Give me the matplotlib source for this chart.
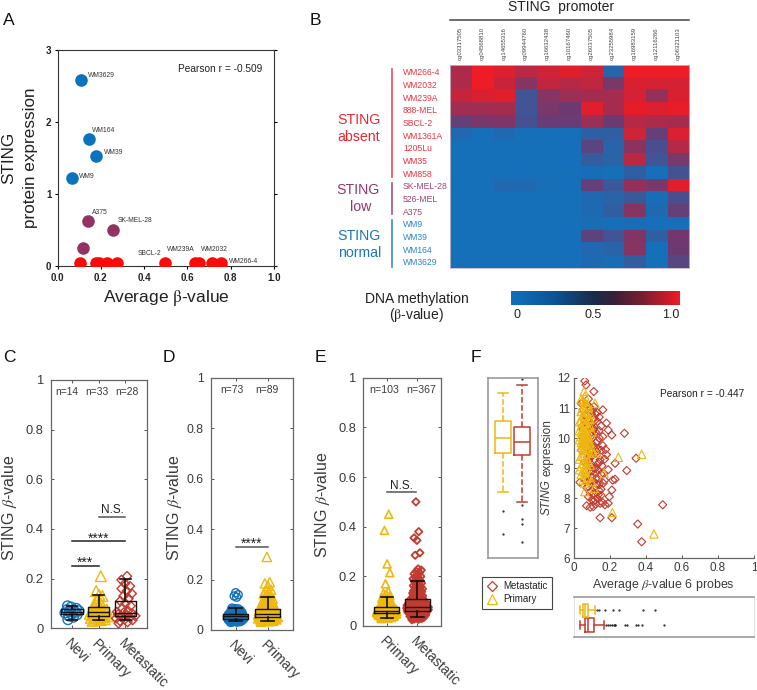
import numpy as np
import matplotlib
matplotlib.use("Agg")
import matplotlib.pyplot as plt
from matplotlib.colors import LinearSegmentedColormap as LSC
from matplotlib.lines import Line2D

plt.rcParams['font.family'] = ['Liberation Sans', 'DejaVu Sans']
plt.rcParams['mathtext.fontset'] = 'stix'

W, H = 757, 690
BLUE, YEL, RED, PUR = '#1272bb', '#eeb80f', '#c23b2e', '#943263'
TXT = '#3a3a3a'

# ---------- Panel A ----------
a_blue_x = [0.11, 0.147, 0.178, 0.068]
a_blue_y = [2.59, 1.77, 1.53, 1.22]
a_purple_x = [0.14, 0.258, 0.12]
a_purple_y = [0.63, 0.50, 0.25]
a_red_x = [0.103, 0.18, 0.19, 0.228, 0.275, 0.497, 0.635, 0.655, 0.715, 0.757]
a_red_y = [0.05] * 10

# ---------- Panel B ----------
probes = ['cg03317505', 'cg04568810', 'cg14655316', 'cg09944760', 'cg16632438', 'cg10167460',
          'cg26037505', 'cg23255984', 'cg16983159', 'cg12116266', 'cg06321103']
absent_lines = ['WM266-4', 'WM2032', 'WM239A', '888-MEL', 'SBCL-2', 'WM1361A', '1205Lu', 'WM35', 'WM858']
low_lines = ['SK-MEL-28', '526-MEL', 'A375']
normal_lines = ['WM9', 'WM39', 'WM164', 'WM3629']
m_wm266 = [.75, 1, .93, .80, .88, .95, .88, .10, 1, 1, 1]
m_wm2032 = [.75, 1, .85, .60, .83, .78, .82, .55, .92, .90, .90]
m_wm239 = [.85, .92, .95, .25, .60, .68, .72, .72, .90, .65, .92]
m_888 = [.70, .70, .72, .25, .55, .50, .95, .72, .97, .93, .98]
m_sbcl = [.45, .55, .58, .28, .48, .48, .68, .50, .78, .75, .72]
m_wm1361 = [.07, 0, .07, 0, 0, 0, .15, .15, .88, .45, .93]
m_1205 = [0, 0, 0, 0, 0, 0, .40, .12, .62, .30, .78]
m_wm35 = [0, 0, 0, 0, 0, 0, .18, .12, .80, .25, .55]
m_wm858 = [0, 0, 0, 0, 0, 0, .02, .01, .15, 0, .27]
m_skmel = [0, 0, .07, .05, .01, 0, .45, .22, .65, .55, .95]
m_526 = [0, 0, 0, 0, 0, 0, .07, .12, .22, .02, .30]
m_a375 = [0, 0, 0, 0, 0, 0, .05, .17, .60, .05, .45]
m_wm9 = [0, 0, 0, 0, 0, 0, .03, .01, .02, 0, .01]
m_wm39 = [0, 0, 0, 0, 0, 0, .42, .25, .58, .15, .52]
m_wm164 = [0, 0, 0, 0, 0, 0, .07, .12, .60, 0, .50]
m_wm3629 = [0, 0, 0, 0, 0, 0, .05, .03, .17, 0, .38]

# ---------- Panel C ----------
c_nevi = [.035, .045, .05, .055, .058, .062, .065, .067, .07, .072, .075, .08, .085, .09]
c_prim = [.03, .033, .035, .037, .04, .042, .044, .046, .048, .05, .052, .054, .056, .058, .06, .062, .064,
          .066, .068, .07, .072, .075, .078, .08, .085, .09, .095, .10, .11, .13, .135, .15, .21]
c_meta = [.02, .025, .03, .033, .036, .04, .043, .046, .05, .053, .056, .06, .063, .066, .07, .08, .09, .10,
          .11, .12, .13, .14, .15, .16, .17, .18, .195, .21]
c_stats = [(.035, .058, .066, .076, .09), (.035, .05, .065, .085, .135), (.035, .05, .06, .11, .20)]

# ---------- Panel D ----------
d_nevi = [.03, .031, .032, .033, .034, .035, .035, .036, .037, .038, .038, .039, .04, .04, .041, .042, .042, .043,
          .044, .044, .045, .045, .046, .047, .047, .048, .048, .049, .05, .05, .051, .052, .052, .053, .053, .054,
          .055, .055, .056, .056, .057, .058, .058, .059, .06, .06, .061, .062, .062, .063, .064, .065, .066,
          .067, .068, .069, .07, .071, .072, .073, .074, .075, .076, .078, .08, .082, .084, .085, .087,
          .13, .135, .14, .148]
d_prim = [.033, .035, .036, .037, .038, .039, .04, .041, .042, .043, .044, .045, .045, .046, .047, .048, .048, .049,
          .05, .05, .051, .052, .053, .054, .054, .055, .056, .057, .058, .058, .059, .06, .061, .062, .063, .064,
          .065, .066, .067, .068, .069, .07, .071, .072, .073, .074, .075, .076, .077, .078, .079, .08, .081, .082,
          .083, .084, .085, .086, .087, .088, .09, .092, .094, .096, .098, .10, .102, .104, .106, .108, .11, .112,
          .115, .118, .12, .122, .125, .128, .13, .135, .14, .145, .15, .155, .16, .175, .185, .19, .29]
d_stats = [(.035, .045, .055, .063, .087), (.037, .05, .065, .085, .13)]

# ---------- Panel E ----------
e_prim = [.03, .032, .033, .034, .035, .036, .037, .038, .039, .04, .04, .041, .042, .043, .043, .044, .045, .045,
          .046, .047, .047, .048, .049, .05, .05, .051, .051, .052, .052, .053, .053, .054, .054, .055, .055, .056,
          .056, .057, .057, .058, .058, .059, .059, .06, .06, .061, .061, .062, .062, .063, .063, .064, .064, .065,
          .065, .066, .067, .068, .068, .069, .07, .07, .071, .072, .073, .074, .075, .076, .077, .078, .079, .08,
          .081, .082, .083, .084, .085, .086, .088, .09, .092, .094, .096, .098, .10, .102, .105, .108, .11, .112,
          .115, .118, .122, .127, .132, .14, .17, .215, .25, .385, .45]
e_meta = [.025, .027, .028, .03, .031, .032, .033, .034, .035, .035, .036, .037, .038, .039, .04, .04, .041, .042,
          .043, .044, .045, .045, .046, .047, .048, .049, .05, .05, .051, .052, .052, .053, .054, .054, .055, .055,
          .056, .056, .057, .058, .058, .059, .059, .06, .06, .061, .061, .062, .062, .063, .063, .064, .064, .065,
          .065, .066, .066, .067, .067, .068, .068, .069, .069, .07, .07, .071, .071, .072, .072, .073, .073, .074,
          .074, .075, .075, .076, .076, .077, .077, .078, .078, .079, .079, .08, .08, .081, .081, .082, .082, .083,
          .083, .084, .084, .085, .085, .086, .086, .087, .087, .088, .088, .089, .09, .09, .091, .092, .093, .094,
          .095, .096, .097, .098, .099, .10, .10, .101, .102, .103, .104, .105, .106, .107, .108, .109, .11, .11,
          .112, .114, .116, .118, .12, .122, .124, .126, .128, .13, .132, .134, .136, .138, .14, .142, .145, .148,
          .15, .152, .155, .158, .16, .163, .166, .17, .173, .176, .18, .183, .187, .19, .193, .197, .20, .205,
          .21, .215, .22, .225, .23, .285, .295, .345, .355, .38, .50]
e_stats = [(.033, .052, .062, .078, .118), (.035, .06, .075, .11, .183)]

# ---------- Panel F ----------
f_meta_x = [.06, .067, .11, .16, .28, .21, .19, .345, .293, .228, .228, .215, .493, .145, .21, .354, .376, .07, .196,
            .21, .163, .19, .172, .145, .107, .117, .033, .08,
            .10, .12, .14, .09, .13, .15, .11, .08, .12, .10, .14, .16, .13, .09, .07, .11, .15, .12, .10, .17, .14,
            .08, .09, .11, .13, .12, .15, .10, .07, .09, .16, .18, .14, .12, .10, .08, .11, .13, .09, .07, .06, .05,
            .08, .10, .12, .14, .06, .09, .11, .07, .05, .08, .13, .10, .06, .12, .09, .15, .17, .11, .08, .07, .10,
            .13, .16, .12, .09, .14, .11, .06, .08, .10, .05, .07, .04, .09, .06, .05, .12, .08, .04, .07, .11, .18,
            .19, .15, .135, .125, .105, .095, .085, .075, .065, .055, .045, .145, .155, .165, .175, .115, .125, .135,
            .095]
f_meta_y = [11.9, 11.77, 11.55, 10.94, 10.16, 10.1, 10.27, 9.33, 8.92, 9.16, 8.63, 8.6, 7.78, 7.35, 7.35, 7.14, 6.55,
            7.75, 8.05, 8.27, 8.5, 7.83, 7.78, 7.83, 7.72, 7.94, 8.53, 8.38,
            10.9, 10.8, 10.7, 11.0, 10.55, 10.4, 10.3, 10.6, 10.2, 10.1, 10.0, 10.05, 9.9, 9.8, 11.1, 9.7, 9.6, 9.5,
            9.4, 9.3, 9.2, 9.15, 9.05, 9.0, 8.95, 8.85, 8.8, 8.7, 8.75, 8.6, 9.75, 9.45, 10.25, 9.85, 9.55, 10.45,
            10.65, 10.85, 10.35, 10.5, 10.75, 10.95, 9.25, 9.1, 8.65, 8.45, 9.95, 10.15, 11.05, 9.65, 10.3, 9.35,
            9.65, 8.9, 8.6, 8.4, 8.2, 8.1, 8.6, 8.15, 8.05, 8.35, 7.95, 8.0, 7.85, 7.8, 7.7, 8.25, 7.9, 10.6, 10.4,
            10.2, 10.0, 9.8, 9.6, 9.4, 9.2, 11.2, 9.0, 11.3, 11.15, 10.72, 8.55, 10.5, 8.95, 8.3, 9.15, 9.55, 10.28,
            10.82, 11.05, 9.72, 9.95, 10.08, 10.38, 9.28, 9.08, 8.82, 9.62, 10.58, 8.48, 8.12, 9.42]
f_prim_x = [.376, .246, .444, .213, .167, .113, .06, .117, .056, .126,
            .04, .05, .06, .07, .08, .05, .06, .04, .07, .09, .05, .06, .08, .04, .03, .07, .05, .06, .09, .04, .08,
            .05, .07, .06, .03, .04, .10, .05, .06, .07, .08, .04, .05, .06, .07, .03, .05, .08, .09, .04, .06, .07,
            .05, .06, .04, .07, .08, .05, .10, .11, .06, .04, .05, .07, .03, .06, .08, .05, .09, .04, .07, .06, .05,
            .06, .04, .08, .07, .05, .10, .06, .03, .07, .05, .09, .04, .06]
f_prim_y = [9.46, 9.36, 6.81, 7.52, 8.83, 8.33, 8.22, 11.16, 11.55, 9.5,
            11.3, 11.25, 11.2, 11.1, 11.05, 11.0, 10.95, 10.9, 10.85, 10.8, 10.75, 10.7, 10.65, 10.6, 10.55, 10.5,
            10.5, 10.45, 10.4, 10.4, 10.35, 10.3, 10.3, 10.25, 10.25, 10.2, 10.2, 10.15, 10.1, 10.1, 10.05, 10.05,
            10.0, 10.0, 9.95, 9.95, 9.9, 9.9, 9.85, 9.85, 9.8, 9.8, 9.75, 9.7, 9.7, 9.65, 9.6, 9.6, 9.55, 9.5,
            9.5, 9.4, 9.4, 9.35, 9.3, 9.25, 9.2, 9.15, 9.1, 9.05, 9.0, 8.95, 8.9, 8.85, 8.8, 8.7, 8.65, 8.6, 8.55,
            8.5, 8.95, 9.1, 10.75, 10.62, 10.88, 11.4]
f_left_stats = [(8.2, 9.5, 10.0, 10.55, 11.5), (7.87, 9.42, 9.85, 10.35, 11.77)]
f_left_fliers = [[7.55, 6.8], [7.75, 7.3, 7.13, 6.53, 11.95]]
f_bottom_stats = [(.035, .06, .075, .11, .168), (.033, .052, .062, .078, .118)]
f_bottom_fliers = [[.175, .19, .2, .21, .22, .225, .23, .285, .295, .345, .355, .38, .50],
                   [.125, .14, .17, .215, .25, .385, .45]]

fig = plt.figure(figsize=(W / 100, H / 100), dpi=100)


def ax_px(l, t, r, b, **kw):
    return fig.add_axes([l / W, 1 - b / H, (r - l) / W, (b - t) / H], **kw)


def T(x, y, s, **kw):
    kw.setdefault('ha', 'center')
    kw.setdefault('va', 'center')
    kw.setdefault('color', TXT)
    fig.text(x / W, 1 - y / H, s, **kw)


for letter, x, y in [('A', 3, 25), ('B', 310, 25), ('C', 3, 362), ('D', 163, 362), ('E', 315, 362), ('F', 471, 362)]:
    T(x, y, letter, ha='left', va='baseline', fontsize=12.5, color='#111111')

# ===== A =====
ax = ax_px(57.5, 50, 274, 266.3)
ax.scatter(a_blue_x, a_blue_y, s=82, color='#0b72bd', linewidths=0, zorder=3)
ax.scatter(a_purple_x, a_purple_y, s=82, color=PUR, linewidths=0, zorder=3)
ax.scatter(a_red_x, a_red_y, s=82, color='#fb0a0a', linewidths=0, zorder=3)
ax.set_xlim(0, 1)
ax.set_ylim(0, 3)
ax.set_xticks(np.arange(0, 1.01, .2))
ax.set_yticks([0, 1, 2, 3])
ax.set_yticklabels(['0', '1', '2', '3'])
ax.tick_params(labelsize=7, length=2.5, width=.8, pad=2)
for lab in ax.get_xticklabels() + ax.get_yticklabels():
    lab.set_fontweight('bold')
    lab.set_color('#222222')
ax.tick_params(axis='y', right=True)
for s in ax.spines.values():
    s.set_linewidth(.8)
    s.set_color('#333333')
for name, x, y in [('WM3629', .14, 2.65), ('WM164', .16, 1.88), ('WM39', .215, 1.58), ('WM9', .098, 1.24),
                   ('A375', .16, .74), ('SK-MEL-28', .277, .64), ('SBCL-2', .368, .18), ('WM239A', .505, .23),
                   ('WM2032', .662, .235), ('WM266-4', .79, .07)]:
    ax.text(x, y, name, fontsize=4.9, color='#333333', va='center')
T(220, 69, 'Pearson r = -0.509', fontsize=7.3, color='#222222')
T(166, 298, r'Average $\mathrm{\beta}$-value', fontsize=12.5, color='#222222')
T(9, 158, 'STING', fontsize=12.3, rotation=90, color='#222222')
T(31, 158, 'protein expression', fontsize=12.3, rotation=90, color='#222222')

# ===== B =====
ax = ax_px(449.7, 65.3, 688.7, 268.3)
matrix = [m_wm266, m_wm2032, m_wm239, m_888, m_sbcl, m_wm1361, m_1205, m_wm35, m_wm858,
          m_skmel, m_526, m_a375, m_wm9, m_wm39, m_wm164, m_wm3629]
heat = LSC.from_list('heat', ['#1570b9', '#6d3a72', '#ee1c25'])
ax.imshow(matrix, cmap=heat, vmin=0, vmax=1, aspect='auto', interpolation='nearest')
ax.set_xticks(range(len(probes)))
ax.set_xticklabels(probes, rotation=90, fontsize=4.3, color='#444444')
ax.xaxis.tick_top()
ax.tick_params(length=0, pad=4)
rows = absent_lines + low_lines + normal_lines
cols = ['#ef3340'] * 9 + ['#a3416f'] * 3 + ['#2a86c9'] * 4
ax.set_yticks(range(len(rows)))
ax.set_yticklabels(rows, fontsize=6.2, ha='left')
ax.tick_params(axis='y', pad=33.6)
for lab, c in zip(ax.get_yticklabels(), cols):
    lab.set_color(c)
for s in ax.spines.values():
    s.set_color('#c9b8c8')
    s.set_linewidth(.6)
fig.add_artist(Line2D([450 / W, 688.5 / W], [1 - 20 / H] * 2, color='#444444', lw=1.1))
T(561, 7, 'STING  promoter', fontsize=10, color='#222222')
for y0, y1, c in [(69, 177, '#ef4a55'), (183, 214, '#a3557f'), (220, 267, '#3a8cc9')]:
    fig.add_artist(Line2D([391.7 / W] * 2, [1 - y0 / H, 1 - y1 / H], color=c, lw=1.2))
T(359, 120, 'STING', fontsize=10.2, color='#ef2530')
T(359, 137, 'absent', fontsize=10.2, color='#ef2530')
T(358, 190, 'STING', fontsize=10.2, color='#96356b')
T(361, 207, 'low', fontsize=10.2, color='#96356b')
T(359, 236, 'STING', fontsize=10.2, color='#1976bf')
T(360, 253, 'normal', fontsize=10.2, color='#1976bf')
T(417, 299, 'DNA methylation', fontsize=10, color='#222222')
T(417, 315, r'($\mathrm{\beta}$-value)', fontsize=10, color='#222222')
cax = ax_px(510.7, 291, 679, 305)
bar = LSC.from_list('bar', [(0, '#0f70bd'), (.25, '#0b5596'), (.5, '#1a2b48'), (.62, '#3d2038'),
                            (.78, '#7a1e30'), (1, '#ee1c25')])
cax.imshow(np.linspace(0, 1, 256)[None, :], cmap=bar, aspect='auto')
cax.axis('off')
T(516.7, 315, '0', fontsize=9, color='#222222')
T(593, 315, '0.5', fontsize=9, color='#222222')
T(670.7, 315, '1.0', fontsize=9, color='#222222')


# ===== C, D, E =====
def spread(vals, width):
    """Swarm-like horizontal placement of the points, wider where they are denser."""
    v = np.sort(np.asarray(vals, float))
    near = np.array([(np.abs(v - q) < .012).sum() for q in v], float)
    w = .3 + .7 * near / near.max()
    seq = (np.arange(len(v)) * .618034) % 1 - .5
    return v, 2 * seq * w * width


def style_box(ax, labels, fs=9.3):
    ax.set_ylim(0, 1)
    ax.set_yticks(np.arange(0, 1.01, .2))
    ax.set_yticklabels(['0', '0.2', '0.4', '0.6', '0.8', '1'])
    ax.set_xticks(range(1, len(labels) + 1))
    ax.set_xticklabels(labels, rotation=-45, ha='left', va='top', rotation_mode='anchor')
    ax.tick_params(direction='in', length=2.5, width=.7, top=True, right=True, color='#555555',
                   labelsize=fs, labelcolor=TXT)
    ax.tick_params(axis='x', pad=6, labelsize=10)
    ax.tick_params(axis='y', pad=5)
    for s in ax.spines.values():
        s.set_color('#666666')
        s.set_linewidth(.9)


def boxes(ax, stats, width=.8):
    data = [dict(whislo=a, q1=b, med=c, q3=d, whishi=e, fliers=[]) for a, b, c, d, e in stats]
    ax.bxp(data, positions=range(1, len(stats) + 1), widths=width, showfliers=False, manage_ticks=False,
           boxprops=dict(color='#111111', lw=1), medianprops=dict(color='#111111', lw=1),
           whiskerprops=dict(color='#111111', lw=1.2), capprops=dict(color='#111111', lw=1.2), capwidths=.4,
           zorder=5)


def cloud(ax, pos, vals, width, marker, color, size, lw=1.0):
    v, dx = spread(vals, width)
    ax.scatter(pos + dx, v, marker=marker, s=size, facecolors='none', edgecolors=color, linewidths=lw, zorder=3)


def ylabel(x, y, fs=11.5):
    T(x, y, r'STING $\beta$-value', rotation=90, fontsize=fs, color=TXT)


def signif(ax, x0, x1, y, text, dy, color='#222222', fs=10):
    ax.plot([x0, x1], [y, y], color=color, lw=1.1, zorder=4)
    ax.text((x0 + x1) / 2, y + dy, text, ha='center', va='center', fontsize=fs, color='#222222')


ax = ax_px(50.7, 380, 146.7, 628.3)
cloud(ax, 1, c_nevi, .32, 'o', BLUE, 50)
cloud(ax, 2, c_prim, .40, '^', YEL, 60)
cloud(ax, 3, c_meta, .42, 'D', RED, 22)
boxes(ax, c_stats)
ax.set_xlim(.2, 3.8)
style_box(ax, ['Nevi', 'Primary', 'Metastatic'])
signif(ax, 1, 2, .25, '***', .012)
signif(ax, 1, 3, .35, '****', .012)
signif(ax, 2.02, 3, .45, 'N.S.', .025, color='#555555', fs=8.5)
for x, s in [(67, 'n=14'), (97, 'n=33'), (127, 'n=28')]:
    T(x, 392, s, fontsize=7.4)
ylabel(10, 508)

ax = ax_px(210.7, 378, 293.3, 630)
cloud(ax, 1, d_nevi, .28, 'o', BLUE, 33)
cloud(ax, 2, d_prim, .34, '^', YEL, 45)
boxes(ax, d_stats)
ax.set_xlim(.22, 2.8)
style_box(ax, ['Nevi', 'Primary'], fs=8.8)
signif(ax, 1, 2, .33, '****', .012, color='#555555')
for x, s in [(232, 'n=73'), (267, 'n=89')]:
    T(x, 390, s, fontsize=7.4)
ylabel(175, 508)

ax = ax_px(363.3, 377.7, 440.7, 626)
cloud(ax, 1, e_prim, .36, '^', YEL, 33, lw=1.2)
cloud(ax, 2, e_meta, .38, 'D', RED, 14, lw=1.3)
boxes(ax, e_stats)
ax.set_xlim(.24, 2.76)
style_box(ax, ['Primary', 'Metastatic'])
signif(ax, 1, 1.95, .54, 'N.S.', .025, color='#555555', fs=8.5)
for x, s in [(384, 'n=103'), (421, 'n=367')]:
    T(x, 390, s, fontsize=7.7)
ylabel(322, 505)

# ===== F =====
ax = ax_px(574, 378, 754, 558.3)
ax.scatter(f_meta_x, f_meta_y, marker='D', s=17, facecolors='none', edgecolors=RED, linewidths=.8, zorder=3)
ax.scatter(f_prim_x, f_prim_y, marker='^', s=36, facecolors='none', edgecolors=YEL, linewidths=.8, zorder=4)
ax.set_xlim(0, 1)
ax.set_ylim(6, 12)
ax.set_xticks(np.arange(0, 1.01, .2))
ax.set_xticklabels(['0', '0.2', '0.4', '0.6', '0.8', '1'])
ax.set_yticks(range(6, 13))
ax.tick_params(direction='in', length=2.5, width=.7, top=False, right=False, labelsize=8.4, labelcolor=TXT,
               color='#555555', pad=3)
ax.spines['top'].set_visible(False)
ax.spines['right'].set_visible(False)
for s in ('left', 'bottom'):
    ax.spines[s].set_color('#666666')
    ax.spines[s].set_linewidth(.9)
T(702, 394, 'Pearson r = -0.447', fontsize=7.3, color='#222222')
T(663, 585, r'Average $\beta$-value 6 probes', fontsize=8.9)
T(547, 515, 'STING', rotation=90, fontsize=8.5, style='italic', va='bottom')
T(547, 476, 'expression', rotation=90, fontsize=8.5, va='bottom')

ax = ax_px(488, 377.7, 537.7, 558)
for i, (st, fl, c) in enumerate(zip(f_left_stats, f_left_fliers, [YEL, RED])):
    d = [dict(whislo=st[0], q1=st[1], med=st[2], q3=st[3], whishi=st[4], fliers=[])]
    ax.bxp(d, positions=[i + 1], widths=.82, showfliers=False, manage_ticks=False, capwidths=.55,
           boxprops=dict(color=c, lw=1.1), medianprops=dict(color=c, lw=1.1),
           whiskerprops=dict(color=c, lw=1.1, ls='--'), capprops=dict(color=c, lw=1.1))
    ax.plot([i + 1] * len(fl), fl, ls='none', marker='.', ms=1.2, color='#222222')
ax.set_xlim(.21, 2.83)
ax.set_ylim(6, 12)
ax.set_xticks([])
ax.set_yticks([])
for s in ax.spines.values():
    s.set_color('#999999')
    s.set_linewidth(1.2)

ax = ax_px(574, 597.3, 754, 637.3)
for i, (st, fl, c) in enumerate(zip(f_bottom_stats, f_bottom_fliers, [RED, YEL])):
    d = [dict(whislo=st[0], q1=st[1], med=st[2], q3=st[3], whishi=st[4], fliers=[])]
    ax.bxp(d, positions=[i + 1], widths=.87, vert=False, showfliers=False, manage_ticks=False, capwidths=.5,
           boxprops=dict(color=c, lw=1.1), medianprops=dict(color=c, lw=1.1),
           whiskerprops=dict(color=c, lw=1.1), capprops=dict(color=c, lw=1.1))
    ax.plot(fl, [i + 1] * len(fl), ls='none', marker='.', ms=1.2, color='#222222')
ax.set_xlim(0, 1)
ax.set_ylim(.18, 2.85)
ax.set_xticks([])
ax.set_yticks([])
for s in ('left', 'right'):
    ax.spines[s].set_color('#dddddd')
    ax.spines[s].set_linewidth(.6)
for s in ('top', 'bottom'):
    ax.spines[s].set_color('#999999')
    ax.spines[s].set_linewidth(1.2)

handles = [Line2D([], [], ls='none', marker='D', mfc='none', mec=RED, ms=5.5, mew=.9),
           Line2D([], [], ls='none', marker='^', mfc='none', mec=YEL, ms=7, mew=.9)]
leg = fig.legend(handles, ['Metastatic', 'Primary'], loc='upper left',
                 bbox_to_anchor=(482.3 / W, 1 - 576.7 / H), fontsize=7, frameon=True, fancybox=False,
                 edgecolor='#444444', framealpha=1, borderaxespad=0, borderpad=.45, handlelength=1.1,
                 handletextpad=.6, labelspacing=.35, labelcolor='#222222')
leg.get_frame().set_linewidth(.8)

fig.savefig('out.png', dpi=100)
